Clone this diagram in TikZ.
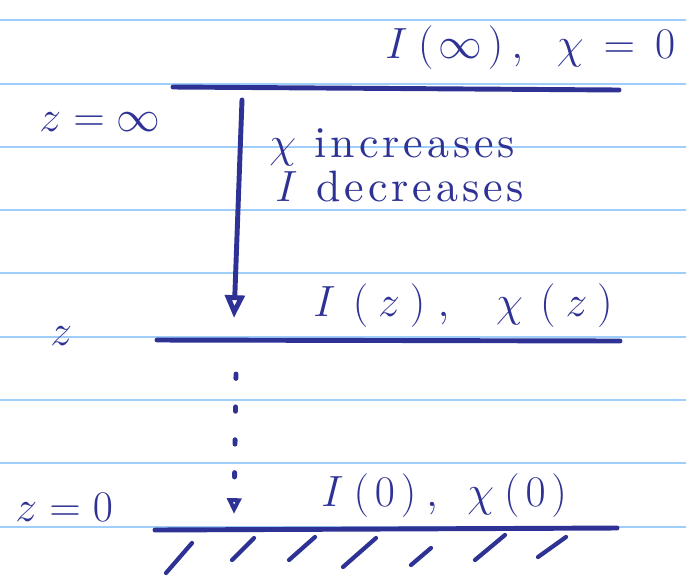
\documentclass[tikz,border=0pt]{standalone}
\usepackage{amsmath}
\usepackage{fontspec}
\usepackage{tikz}
\usetikzlibrary{arrows.meta, positioning}
\newfontfamily\spacedfont{lmroman10-regular.otf}[LetterSpace=9]
\definecolor{cInk}{RGB}{46,50,148}
\definecolor{cRule}{RGB}{160,206,250}
\newcommand{\hgap}[1]{\hspace{#1em}}
\tikzset{
	ruleline/.style={draw=cRule, line width=1.1pt},
	inkline/.style={draw=cInk, line width=2.8pt, line cap=round},
	flowarrow/.style={inkline, -{Triangle[open, length=13pt, width=11pt]}},
	dotarrow/.style={inkline, dash pattern=on 2.5pt off 16.2pt, -{Triangle[open, length=9pt, width=8pt]}},
	inktext/.style={text=cInk, font=\fontsize{28}{32}\selectfont, inner sep=0pt, anchor=base west},
	% spaced words, as written by hand
	wordtext/.style={inktext, font=\spacedfont\fontsize{25}{28}\selectfont},
	% ground hatch helper
	hatch/.style={inkline, line width=2.4pt},
}

\begin{document}
\begin{tikzpicture}[x=0.02cm, y=-0.02cm]
	\fill[white] (0,0) rectangle (686,576);
	\useasboundingbox (0,0) rectangle (686,576);
	% paper rules
	\foreach \yy in {20,84,147,210,273,337,400,463,527} {
		\draw[ruleline] (0,\yy) -- (686,\yy);
	}
	% levels
	\coordinate (topL) at (173,87);
	\coordinate (topR) at (619,90);
	\coordinate (midL) at (157,340);
	\coordinate (midR) at (620,341);
	\coordinate (botL) at (155,530);
	\coordinate (botR) at (617,528);
	\draw[inkline] (topL) -- (topR);
	\draw[inkline] (midL) -- (midR);
	\draw[inkline] (botL) -- (botR);
	\foreach \xa/\ya/\xb/\yb in {166/573/192/543, 232/560/254/538, 289/560/315/537, 343/567/376/538, 411/565/431/548, 475/560/505/535, 538/557/566/537} {
		\draw[hatch] (\xa,\ya) -- (\xb,\yb);
	}
	% labels
	\node[inktext, font=\fontsize{30}{34}\selectfont] (tInf) at (385,58)
		{$I\hgap{.2}(\hgap{.1}\infty\hgap{.1})\hgap{.15},\hgap{.5}\chi\hgap{.15}=\hgap{.15}0$};
	\node[inktext, font=\fontsize{25}{28}\selectfont] (zInf) at (39,131) {$z = \infty$};
	\node[wordtext] (incr) at (269,157) {$\chi$ increases};
	\node[wordtext] (decr) at (275,201) {$I$ decreases};
	\node[inktext] (tZ) at (313,316)
		{$I\hgap{.35}(\hgap{.2}z\hgap{.2})\hgap{.25},\hgap{.8}\chi\hgap{.35}(\hgap{.2}z\hgap{.2})$};
	\node[inktext, font=\fontsize{40}{44}\selectfont] (zZ) at (50,345) {$z$};
	\node[inktext, font=\fontsize{25}{28}\selectfont] (zZero) at (15,521) {$z = 0$};
	\node[inktext] (tZero) at (321,506)
		{$I\hgap{.2}(\hgap{.12}0\hgap{.12})\hgap{.2},\hgap{.45}\chi\hgap{.2}(\hgap{.12}0\hgap{.12})$};
	% arrows
	\coordinate (arrTop) at (242,100);
	\coordinate (arrBot) at (234,318);
	\coordinate (dotTop) at (236,374);
	\coordinate (dotBot) at (234,514);
	\draw[flowarrow] (arrTop) -- (arrBot);
	\draw[dotarrow] (dotTop) -- (dotBot);
\end{tikzpicture}
\end{document}
